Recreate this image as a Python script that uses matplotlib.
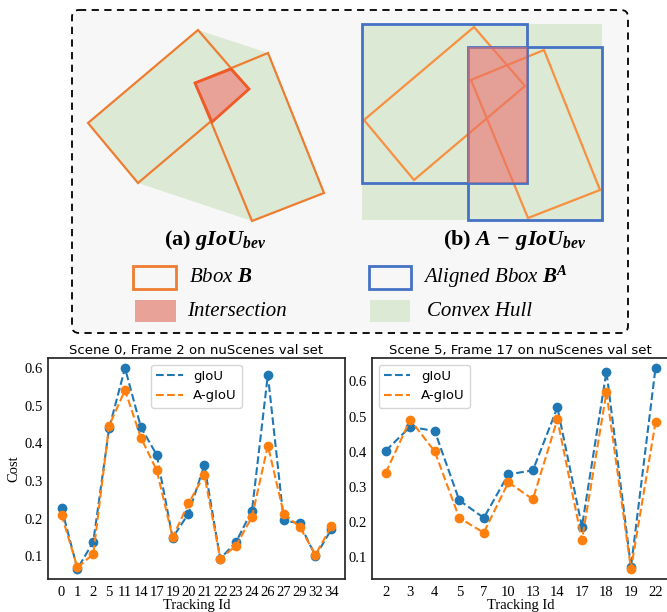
import numpy as np
import matplotlib.pyplot as plt
from matplotlib.patches import Polygon, Rectangle, FancyBboxPatch

plt.rcParams['mathtext.fontset'] = 'custom'
plt.rcParams['mathtext.it'] = 'Liberation Serif:italic:bold'
plt.rcParams['mathtext.bf'] = 'Liberation Serif:italic:bold'
plt.rcParams['mathtext.rm'] = 'Liberation Serif:bold'

# cost curves
ids0 = ['0', '1', '2', '5', '11', '14', '17', '19', '20', '21', '22', '23',
        '24', '26', '27', '29', '32', '34']
giou0 = [0.228, 0.066, 0.138, 0.440, 0.600, 0.443, 0.369, 0.149, 0.213, 0.342,
         0.093, 0.138, 0.221, 0.582, 0.195, 0.187, 0.100, 0.171]
agiou0 = [0.210, 0.070, 0.105, 0.447, 0.541, 0.415, 0.328, 0.150, 0.240, 0.316,
          0.093, 0.128, 0.204, 0.394, 0.213, 0.178, 0.104, 0.179]

ids5 = ['2', '3', '4', '5', '7', '10', '13', '14', '17', '18', '19', '22']
giou5 = [0.403, 0.471, 0.459, 0.262, 0.212, 0.336, 0.347, 0.526, 0.187, 0.628,
         0.072, 0.638]
agiou5 = [0.340, 0.491, 0.401, 0.212, 0.170, 0.313, 0.265, 0.492, 0.148, 0.569,
          0.067, 0.484]

# sketch boxes (pixel coords of panel a), panel b is the same pair shifted
box1 = np.array([[88, 123], [198, 30], [249, 89], [138, 183]])
box2 = np.array([[195, 83], [268, 53], [324, 193], [252, 221]])
inter = np.array([[195, 83], [231, 69], [249, 89], [212, 122]])
shift_b = np.array([276, -3])

orange = '#ED7D31'
blue = '#4472C4'
green = '#DCE9D5'
pink = '#E8A298'

fig = plt.figure(figsize=(6.67, 6.12), dpi=100)

# ---- top sketch ----
ax0 = fig.add_axes([0, 0, 1, 1])
ax0.set_xlim(0, 667)
ax0.set_ylim(612, 0)
ax0.axis('off')

ax0.add_patch(FancyBboxPatch((72, 10), 556, 323, boxstyle='round,pad=0,rounding_size=7',
                             fc='#F7F7F7', ec='k', lw=1.3, ls=(0, (4, 3))))

# (a) gIoU
hull = np.array([box1[0], box1[1], box2[1], box2[2], box2[3], box1[3]])
ax0.add_patch(Polygon(hull, closed=True, fc=green, ec='none'))
ax0.add_patch(Polygon(box1, closed=True, fill=False, ec=orange, lw=1.6))
ax0.add_patch(Polygon(box2, closed=True, fill=False, ec=orange, lw=1.6))
ax0.add_patch(Polygon(inter, closed=True, fc=pink, ec='#F05A28', lw=2))

# (b) A-gIoU
b1 = box1 + shift_b
b2 = box2 + shift_b
al1 = [b1[:, 0].min() - 2, b1[:, 1].min() - 3, b1[:, 0].max() + 2, b1[:, 1].max() + 3]
al2 = [b2[:, 0].min() - 3, b2[:, 1].min() - 3, b2[:, 0].max() + 2, b2[:, 1].max() + 2]
hx0, hy0 = min(al1[0], al2[0]), min(al1[1], al2[1])
hx1, hy1 = max(al1[2], al2[2]), max(al1[3], al2[3])
ax0.add_patch(Rectangle((hx0, hy0), hx1 - hx0, hy1 - hy0, fc=green, ec='none'))
ax0.add_patch(Polygon(b1, closed=True, fill=False, ec='#F7903F', lw=1.6))
ax0.add_patch(Polygon(b2, closed=True, fill=False, ec='#F7903F', lw=1.6))
for al in (al1, al2):
    ax0.add_patch(Rectangle((al[0], al[1]), al[2] - al[0], al[3] - al[1],
                            fill=False, ec=blue, lw=2))
ix0, iy0 = max(al1[0], al2[0]), max(al1[1], al2[1])
ix1, iy1 = min(al1[2], al2[2]), min(al1[3], al2[3])
ax0.add_patch(Rectangle((ix0, iy0), ix1 - ix0, iy1 - iy0, fc='#EB6F6C', alpha=0.6, ec='none'))

ax0.text(215, 240, r'(a) $gIoU_{bev}$', family='Liberation Serif', weight='bold',
         fontsize=16, ha='center', va='center')
ax0.text(515, 240, r'(b) $A\,-\,gIoU_{bev}$', family='Liberation Serif', weight='bold',
         fontsize=16, ha='center', va='center')

# legend of the sketch
ax0.add_patch(Rectangle((133, 266), 43, 23, fill=False, ec=orange, lw=2))
ax0.add_patch(Rectangle((135, 300), 41, 22, fc=pink, ec='none'))
ax0.add_patch(Rectangle((369, 266), 42, 23, fill=False, ec=blue, lw=2))
ax0.add_patch(Rectangle((370, 300), 40, 22, fc=green, ec='none'))
kw = dict(family='Liberation Serif', style='italic', fontsize=15, va='center')
ax0.text(189, 277, r'Bbox $\mathbf{B}$', **kw)
ax0.text(187, 311, 'Intersection', **kw)
ax0.text(423, 277, r'Aligned Bbox $\mathbf{B}^{\mathbf{A}}$', **kw)
ax0.text(427, 311, 'Convex Hull', **kw)

# ---- cost plots ----
axl = fig.add_axes([0.072, 0.054, 0.445, 0.361])
axr = fig.add_axes([0.558, 0.054, 0.445, 0.361])

panels = [(axl, ids0, giou0, agiou0, 'Scene 0, Frame 2 on nuScenes val set', 'upper center'),
          (axr, ids5, giou5, agiou5, 'Scene 5, Frame 17 on nuScenes val set', 'upper left')]
for ax, ids, g, a, title, loc in panels:
    x = np.arange(len(ids))
    ax.plot(x, g, '--', color='C0', lw=1.5, label='gIoU')
    ax.plot(x, g, 'o', color='C0', ms=6)
    ax.plot(x, a, '--', color='C1', lw=1.5, label='A-gIoU')
    ax.plot(x, a, 'o', color='C1', ms=6)
    ax.set_xticks(x, ids)
    ax.set_yticks([0.1, 0.2, 0.3, 0.4, 0.5, 0.6])
    ax.tick_params(length=0, labelsize=10.5)
    ax.tick_params(axis='x', pad=5)
    ax.tick_params(axis='y', pad=4)
    for lab in ax.get_xticklabels() + ax.get_yticklabels():
        lab.set_family('Liberation Serif')
    ax.set_title(title, fontsize=9.5, pad=3)
    ax.legend(loc=loc, fontsize=9.5)
    ax.set_xlabel('Tracking Id', family='Liberation Serif', fontsize=10.5, labelpad=0)
    for s in ax.spines.values():
        s.set_color('0.15')
        s.set_linewidth(1.25)
axl.set_ylabel('Cost', family='Liberation Serif', fontsize=10.5, labelpad=3)

fig.savefig('out.png', dpi=100)
